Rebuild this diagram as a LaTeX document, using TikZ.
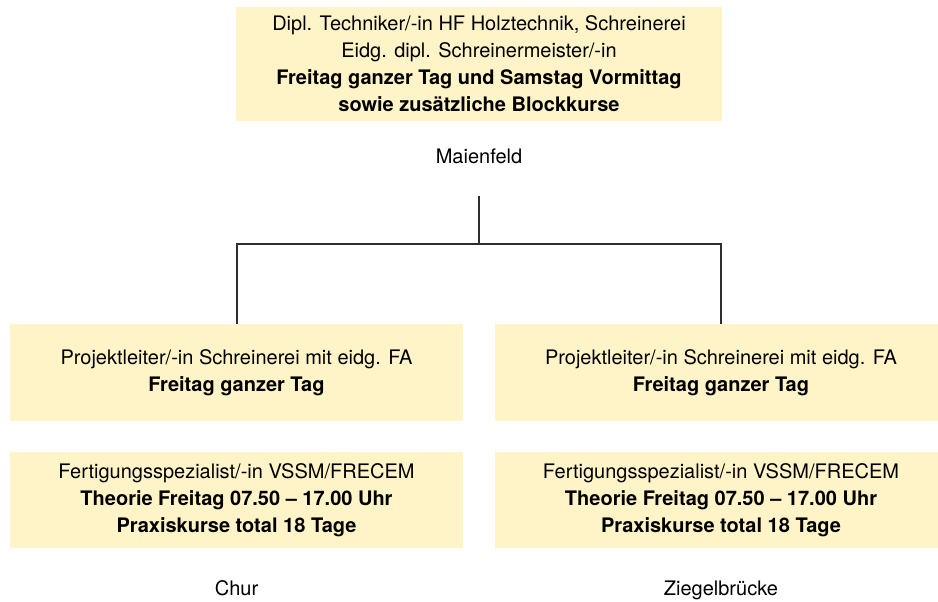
\documentclass[tikz,border=0pt]{standalone}
\usepackage{fontspec}
\setmainfont{TeX Gyre Heros}
\usetikzlibrary{positioning}

\definecolor{boxfill}{HTML}{FFF4C8}
\definecolor{linegray}{HTML}{2E2E2E}
\tikzset{
	course/.style={fill=boxfill, align=center, text centered, inner sep=0pt},
	place/.style={text centered, inner sep=0pt},
	conn/.style={draw=linegray, line width=2}
}

\begin{document}
\begin{tikzpicture}[x=1pt, y=-1pt, node distance=31pt, font=\fontsize{20}{27}\selectfont]
	\useasboundingbox (0,0) rectangle (938,602);

		% nodes - school at the top %
		\node[course, minimum width=486pt, minimum height=114pt] (top) at (479,64)
			{Dipl. Techniker/-in HF Holztechnik, Schreinerei\\
			 Eidg. dipl. Schreinermeister/-in\\
			 \textbf{Freitag ganzer Tag und Samstag Vormittag}\\
			 \textbf{sowie zusätzliche Blockkurse}};
		\node[place, anchor=base] (maienfeld) at (479,164) {Maienfeld};

		% nodes - two locations below %
		\node[course, minimum width=453pt, minimum height=97pt] (projL) at (236.5,372.5)
			{Projektleiter/-in Schreinerei mit eidg. FA\\
			 \textbf{Freitag ganzer Tag}};
		\node[course, minimum width=453pt, minimum height=96pt, below=of projL] (fertL)
			{Fertigungsspezialist/-in VSSM/FRECEM\\
			 \textbf{Theorie Freitag 07.50 -- 17.00 Uhr}\\
			 \textbf{Praxiskurse total 18 Tage}};
		\node[place, anchor=base] (chur) at (236.5,595) {Chur};

		\node[course, minimum width=453pt, minimum height=97pt] (projR) at (721,372.5)
			{Projektleiter/-in Schreinerei mit eidg. FA\\
			 \textbf{Freitag ganzer Tag}};
		\node[course, minimum width=453pt, minimum height=96pt, below=of projR] (fertR)
			{Fertigungsspezialist/-in VSSM/FRECEM\\
			 \textbf{Theorie Freitag 07.50 -- 17.00 Uhr}\\
			 \textbf{Praxiskurse total 18 Tage}};
		\node[place, anchor=base] (ziegel) at (721,595) {Ziegelbrücke};

		% edges %
		\coordinate (stem) at (479,196);
		\coordinate (hub) at (479,244);
		\draw[conn] (stem) -- (hub);
		\draw[conn] (projL.north) |- (hub) -| (projR.north);

\end{tikzpicture}
\end{document}
